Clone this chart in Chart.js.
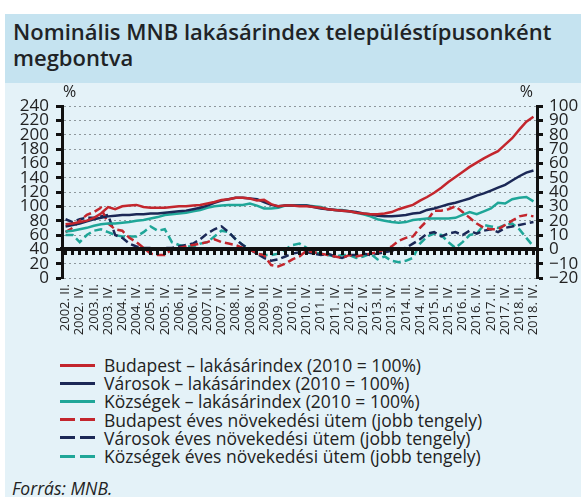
<!DOCTYPE html>
<html>
<head>
<meta charset="utf-8">
<script src="https://cdn.jsdelivr.net/npm/chart.js@4.4.0/dist/chart.umd.min.js"></script>
<style>
    body { margin: 0; background: #fff; width: 581px; height: 497px; overflow: hidden; font-family: 'Open Sans', sans-serif; color: #222; }
    #wrap { position: absolute; left: 5px; top: 14px; width: 576px; height: 483px; background: #e4f2f8; }
    #title { height: 65px; background: #c5e3f0; padding: 4px 0 0 8px; font-weight: 600; font-size: 22px; line-height: 26px; color: #1f2326; }
    #chartBox { position: absolute; left: 0; top: 69px; }
    #legend { position: absolute; left: 55px; top: 342px; font-size: 17.5px; }
    .row { height: 18.2px; display: flex; align-items: center; white-space: nowrap; }
    .sw { width: 35px; height: 3px; margin-right: 9px; flex: none; }
    #source { position: absolute; left: 7px; top: 462px; font-style: italic; font-size: 17.5px; }
</style>
</head>
<body>
<div id="wrap">
    <div id="title">Nominális MNB lakásárindex településtípusonként<br>megbontva</div>
    <div id="chartBox"><canvas id="housingChart" width="576" height="260"></canvas></div>
    <div id="legend"></div>
    <div id="source">Forrás: MNB.</div>
</div>
<script>
// quarters 2002. II. - 2018. IV.
const quarterLabels = [
    '2002. II.', '2002. III.', '2002. IV.',
    '2003. I.', '2003. II.', '2003. III.', '2003. IV.',
    '2004. I.', '2004. II.', '2004. III.', '2004. IV.',
    '2005. I.', '2005. II.', '2005. III.', '2005. IV.',
    '2006. I.', '2006. II.', '2006. III.', '2006. IV.',
    '2007. I.', '2007. II.', '2007. III.', '2007. IV.',
    '2008. I.', '2008. II.', '2008. III.', '2008. IV.',
    '2009. I.', '2009. II.', '2009. III.', '2009. IV.',
    '2010. I.', '2010. II.', '2010. III.', '2010. IV.',
    '2011. I.', '2011. II.', '2011. III.', '2011. IV.',
    '2012. I.', '2012. II.', '2012. III.', '2012. IV.',
    '2013. I.', '2013. II.', '2013. III.', '2013. IV.',
    '2014. I.', '2014. II.', '2014. III.', '2014. IV.',
    '2015. I.', '2015. II.', '2015. III.', '2015. IV.',
    '2016. I.', '2016. II.', '2016. III.', '2016. IV.',
    '2017. I.', '2017. II.', '2017. III.', '2017. IV.',
    '2018. I.', '2018. II.', '2018. III.', '2018. IV.'
];

// lakásárindex, 2010 = 100% (left axis)
const budapestIndex = [75, 76, 78, 80, 84, 90, 99, 96, 100, 101, 102, 99, 98, 98, 98, 99, 100, 100, 101, 102,
    104, 106, 109, 110, 112, 112, 111, 108, 109, 103, 100, 101, 101, 100, 100, 99, 98, 96, 95, 94,
    93, 91, 90, 89, 89, 90, 92, 96, 99, 102, 108, 113, 119, 126, 134, 141, 148, 155, 161, 167,
    172, 177, 186, 195, 207, 218, 225];
const varosokIndex = [72, 74, 76, 79, 82, 84, 86, 87, 88, 88, 89, 89, 90, 90, 91, 92, 93, 94, 96, 98,
    101, 105, 108, 110, 112, 112, 111, 110, 106, 102, 100, 101, 101, 101, 101, 99, 97, 96, 95, 94,
    93, 92, 90, 89, 87, 86, 86, 87, 88, 90, 91, 95, 97, 100, 103, 105, 108, 111, 115, 118,
    122, 126, 130, 136, 142, 147, 150];
const kozsegekIndex = [65, 66, 68, 70, 73, 75, 76, 76, 77, 78, 80, 81, 83, 85, 88, 89, 90, 91, 93, 95,
    98, 100, 101, 102, 102, 102, 104, 101, 97, 97, 98, 101, 101, 101, 101, 100, 99, 96, 95, 95,
    93, 91, 89, 86, 82, 80, 78, 77, 78, 81, 82, 83, 83, 83, 83, 84, 88, 92, 89, 93,
    97, 105, 104, 110, 112, 113, 107];

// éves növekedési ütem, % (right axis)
const budapestGrowth = [12, 15, 20, 24, 26, 29, 18, 14, 13, 8, 5, 1, -3, -4, -4, 0, 1, 2, 3, 4,
    5, 7, 5, 4, 3, 1, 0, -3, -4, -11, -12, -10, -7, -5, -1, -2, -3, -4, -5, -6,
    -4, -5, -4, -3, -2, 0, 2, 6, 8, 9, 15, 20, 27, 27, 28, 30, 26, 22, 18, 15,
    14, 14, 17, 20, 23, 24, 23];
const varosokGrowth = [21, 19, 21, 22, 22, 23, 24, 10, 8, 4, 2, 1, 1, 0, 1, 1, 2, 3, 4, 7,
    11, 14, 16, 12, 7, 3, 0, -3, -6, -8, -7, -5, -3, -2, -2, -3, -4, -3, -5, -6,
    -4, -4, -3, -4, -3, -2, -1, 0, 1, 4, 7, 11, 12, 9, 11, 12, 10, 13, 11, 13,
    14, 12, 15, 16, 17, 18, 19];
const kozsegekGrowth = [10, 10, 5, 10, 13, 14, 12, 10, 9, 9, 9, 12, 16, 13, 14, 5, 3, 2, 2, 4,
    5, 9, 13, 12, 7, 3, 0, -3, -4, -4, -3, 0, 3, 4, 1, -2, -3, -4, -5, -4,
    -4, -6, -5, -3, -7, -5, -8, -9, -8, -6, 4, 9, 11, 10, 5, 1, 5, 10, 11, 17,
    16, 15, 17, 18, 14, 8, 2];

const seriesNames = [
    'Budapest – lakásárindex (2010 = 100%)',
    'Városok – lakásárindex (2010 = 100%)',
    'Községek – lakásárindex (2010 = 100%)',
    'Budapest éves növekedési ütem (jobb tengely)',
    'Városok éves növekedési ütem (jobb tengely)',
    'Községek éves növekedési ütem (jobb tengely)'
];

const RED = '#c3262d';
const NAVY = '#1b2856';
const TEAL = '#1fa698';
const INK = '#222';
const FONT = "'Open Sans', sans-serif";

// "%" above both value axes
const percentSigns = {
    id: 'percentSigns',
    afterDraw(chart) {
        const { ctx, chartArea, scales } = chart;
        ctx.save();
        ctx.font = '16px ' + FONT;
        ctx.fillStyle = INK;
        ctx.textBaseline = 'middle';
        ctx.textAlign = 'left';
        ctx.fillText('%', scales.y.right + 1, chartArea.top - 14);
        ctx.textAlign = 'right';
        ctx.fillText('%', scales.y1.left - 4, chartArea.top - 14);
        ctx.restore();
    }
};

function lineSet(label, data, color, axis, dashed) {
    return {
        label: label,
        data: data,
        borderColor: color,
        backgroundColor: color,
        borderWidth: 2.5,
        borderDash: dashed ? [8, 4] : [],
        pointRadius: 0,
        tension: 0,
        yAxisID: axis
    };
}

const chart = new Chart(document.getElementById('housingChart'), {
    type: 'line',
    data: {
        labels: quarterLabels,
        datasets: [
            lineSet(seriesNames[0], budapestIndex, RED, 'y', false),
            lineSet(seriesNames[1], varosokIndex, NAVY, 'y', false),
            lineSet(seriesNames[2], kozsegekIndex, TEAL, 'y', false),
            lineSet(seriesNames[3], budapestGrowth, RED, 'y1', true),
            lineSet(seriesNames[4], varosokGrowth, NAVY, 'y1', true),
            lineSet(seriesNames[5], kozsegekGrowth, TEAL, 'y1', true)
        ]
    },
    options: {
        responsive: false,
        animation: false,
        layout: { padding: { top: 23 } },
        plugins: { legend: { display: false }, tooltip: { enabled: false } },
        scales: {
            x: {
                offset: true,
                grid: { display: false, drawTicks: false },
                border: { display: false },
                ticks: {
                    autoSkip: false, minRotation: 90, maxRotation: 90, padding: 6,
                    color: INK, font: { family: FONT, size: 13 },
                    callback: function(value) {
                        const l = this.getLabelForValue(value);
                        return (l.endsWith(' II.') || l.endsWith(' IV.')) ? l : '';
                    }
                },
                afterFit(scale) { scale.height = 65; }
            },
            // zero line of the right axis with quarterly ticks
            x2: {
                offset: true,
                position: { y: 40 },
                ticks: { display: false },
                grid: { drawOnChartArea: false, drawTicks: true, tickLength: 4, tickWidth: 3, tickColor: '#111', z: 1 },
                border: { color: '#111', width: 4, z: 1 }
            },
            y: {
                position: 'left', min: 0, max: 240,
                ticks: { stepSize: 20, autoSkip: false, padding: 7, color: INK, font: { family: FONT, size: 17 } },
                grid: { color: '#8e989d', lineWidth: 1, tickColor: '#111', tickWidth: 3, tickLength: 6 },
                border: { color: '#111', width: 3, dash: [2, 3] },
                afterFit(scale) { scale.width = 57; }
            },
            y1: {
                position: 'right', min: -20, max: 100,
                ticks: {
                    stepSize: 10, autoSkip: false, padding: 6, color: INK, font: { family: FONT, size: 17 },
                    callback: v => String(v).replace('-', '−')
                },
                grid: { drawOnChartArea: false, tickColor: '#111', tickWidth: 3, tickLength: 6 },
                border: { color: '#111', width: 3 },
                afterFit(scale) { scale.width = 44; }
            }
        }
    },
    plugins: [percentSigns]
});

// legend built from the chart's datasets
const legendEl = document.getElementById('legend');
chart.data.datasets.forEach(ds => {
    const row = document.createElement('div');
    row.className = 'row';
    const sw = document.createElement('span');
    sw.className = 'sw';
    sw.style.background = ds.borderDash.length
        ? `linear-gradient(to right, ${ds.borderColor} 0 15px, transparent 15px 20px, ${ds.borderColor} 20px 35px)`
        : ds.borderColor;
    const txt = document.createElement('span');
    txt.textContent = ds.label;
    row.appendChild(sw);
    row.appendChild(txt);
    legendEl.appendChild(row);
});
</script>
</body>
</html>
